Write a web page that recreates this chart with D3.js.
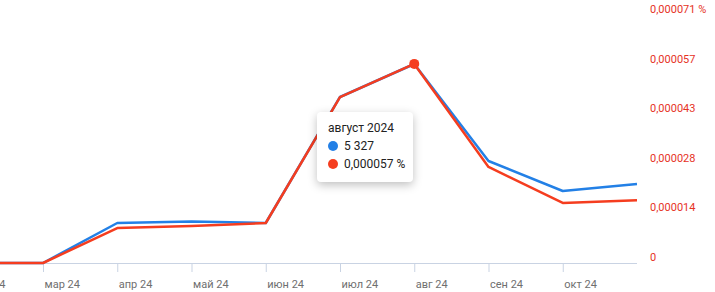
<!DOCTYPE html>
<html>
<head>
<meta charset="utf-8">
<script src="https://cdn.jsdelivr.net/npm/d3@7"></script>
<style>
  body { margin: 0; background: #fff; font-family: Roboto, "Noto Sans", sans-serif; }
  svg { display: block; }
  .tip {
    position: absolute; left: 317px; top: 112px; width: 96px; height: 70px;
    background: #fff; border-radius: 4px; box-shadow: 0 3px 10px rgba(0,0,0,0.25);
    font-size: 12px; color: #222; box-sizing: border-box; padding: 7px 0 0 11px; line-height: 18px;
  }
  .tip .dot { display: inline-block; width: 10px; height: 10px; border-radius: 50%; margin-right: 6px; vertical-align: -1px; }
</style>
</head>
<body>
<script>
const months = ['фев 24', 'мар 24', 'апр 24', 'май 24', 'июн 24', 'июл 24', 'авг 24', 'сен 24', 'окт 24', 'ноя 24'];
const visits = [0, 0, 1071, 1111, 1071, 4444, 5327, 2730, 1927, 2115];
const share = [0, 0, 10.0e-6, 10.6e-6, 11.45e-6, 47.5e-6, 57e-6, 27.5e-6, 17.2e-6, 18.0e-6];
const shareTicks = [0, 14.2e-6, 28.4e-6, 42.6e-6, 56.8e-6, 71e-6];
const shareLabels = ['0', '0,000014', '0,000028', '0,000043', '0,000057', '0,000071 %'];

const W = 715, H = 292;
const svg = d3.select('body').append('svg').attr('width', W).attr('height', H);

const x = d3.scalePoint().domain(months).range([-31.25, 637]);
const y = d3.scaleLinear().domain([0, 71e-6]).range([263, 15]);
const yv = d3.scaleLinear().domain([0, 5327 * 248 / 199]).range([263, 15]);

// x axis, labels sit right of the tick
const xAxis = svg.append('g')
  .attr('transform', 'translate(0,263)')
  .call(d3.axisBottom(x).tickValues(months.slice(0, -1)).tickSize(9).tickSizeOuter(0));
xAxis.select('.domain').attr('d', 'M0,0.5H637').attr('stroke', '#c9d3e3');
xAxis.selectAll('.tick line').attr('stroke', '#c9d3e3');
xAxis.selectAll('.tick text')
  .attr('text-anchor', 'start').attr('x', 1).attr('y', 25).attr('dy', 0)
  .attr('fill', '#6f6f6f').style('font-size', '11px').style('font-family', 'Roboto, sans-serif');

// right axis, red labels
svg.append('g').selectAll('text')
  .data(shareTicks)
  .join('text')
  .attr('x', 650)
  .attr('y', d => y(d) - 2)
  .attr('fill', '#e6331f')
  .style('font-size', '11px')
  .text((d, i) => shareLabels[i]);

const line = (sc) => d3.line().x((d, i) => x(months[i])).y(d => sc(d));

svg.append('path').datum(visits)
  .attr('d', line(yv))
  .attr('fill', 'none').attr('stroke', '#2380e6').attr('stroke-width', 2.5).attr('stroke-linejoin', 'round');
svg.append('path').datum(share)
  .attr('d', line(y))
  .attr('fill', 'none').attr('stroke', '#f53d1f').attr('stroke-width', 2.5).attr('stroke-linejoin', 'round');

svg.append('circle')
  .attr('cx', x('авг 24')).attr('cy', y(share[6])).attr('r', 5)
  .attr('fill', '#f53d1f');

// tooltip
const tip = d3.select('body').append('div').attr('class', 'tip');
tip.append('div').text('август 2024');
const r1 = tip.append('div');
r1.append('span').attr('class', 'dot').style('background', '#2380e6');
r1.append('span').text(d3.format(',')(visits[6]).replace(/,/g, ' '));
const r2 = tip.append('div');
r2.append('span').attr('class', 'dot').style('background', '#f53d1f');
r2.append('span').text('0,000057 %');
</script>
</body>
</html>
